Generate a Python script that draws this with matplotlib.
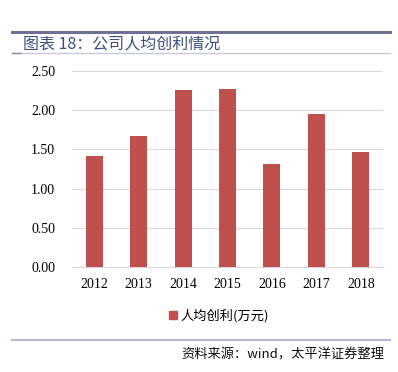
import matplotlib
matplotlib.use("Agg")
import matplotlib.pyplot as plt
from matplotlib.lines import Line2D
from matplotlib.patches import Patch

years = ["2012", "2013", "2014", "2015", "2016", "2017", "2018"]
values = [1.41, 1.67, 2.26, 2.27, 1.31, 1.95, 1.47]
yticks = [0.0, 0.5, 1.0, 1.5, 2.0, 2.5]
title = "图表 18：公司人均创利情况"
series_name = "人均创利(万元)"
source = "资料来源：wind，太平洋证券整理"

cjk = ["Noto Sans CJK SC", "DejaVu Sans"]
bar_color = "#C0504D"

fig = plt.figure(figsize=(3.98, 3.72), dpi=100)
W, H = 398, 372

def fx(x):
    return x / W

def fy(y):
    return 1 - y / H

# top header lines
fig.add_artist(Line2D([fx(12), fx(390)], [fy(32), fy(32)], color="#6f7096", lw=2.2))
fig.add_artist(Line2D([fx(12), fx(390)], [fy(53), fy(53)], color="#c8c8dc", lw=1.0))
fig.add_artist(Line2D([fx(12), fx(20)], [fy(53), fy(53)], color="#8a8aa8", lw=1.0))
fig.text(fx(23), fy(44), title, family=cjk, fontsize=11.5, color="#3b4f80", va="center", ha="left")

# bottom source line
fig.add_artist(Line2D([fx(12), fx(390)], [fy(340), fy(340)], color="#b8b8d4", lw=1.5))
fig.text(fx(384), fy(355), source, family=cjk, fontsize=9.5, style="italic", color="#111111",
         va="center", ha="right")

ax = fig.add_axes([fx(72), fy(267), fx(383) - fx(72), fy(71) - fy(267)])
x = range(len(years))
ax.bar(x, values, width=0.38, color=bar_color, zorder=3)
ax.set_xlim(-0.5, len(years) - 0.5)
ax.set_ylim(0, 2.5)
ax.set_yticks(yticks)
ax.set_yticklabels([f"{v:.2f}" for v in yticks], family="Liberation Serif", fontsize=10)
ax.set_xticks(list(x))
ax.set_xticklabels(years, family="Liberation Serif", fontsize=10)
ax.grid(axis="y", color="#d9d9d9", lw=0.8, zorder=0)
ax.tick_params(axis="y", length=0, pad=12)
ax.tick_params(axis="x", length=0, pad=8)
for s in ["top", "right", "left"]:
    ax.spines[s].set_visible(False)
ax.spines["bottom"].set_color("#d9d9d9")
ax.spines["bottom"].set_linewidth(0.8)

handle = Patch(color=bar_color)
fig.legend([handle], [series_name], loc="center", bbox_to_anchor=(fx(219), fy(316)),
           frameon=False, prop={"family": cjk, "size": 9.5}, handlelength=0.6, handleheight=0.6,
           handletextpad=0.3)

fig.savefig("out.png", dpi=100)
